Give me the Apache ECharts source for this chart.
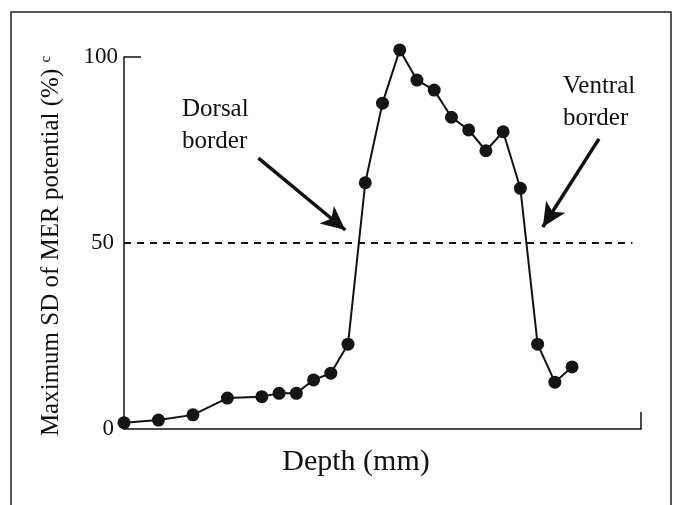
<!DOCTYPE html>
<html>
<head>
<meta charset="utf-8">
<script src="https://cdn.jsdelivr.net/npm/echarts@6/dist/echarts.min.js"></script>
<style>
    html, body { margin: 0; padding: 0; background: #fff; }
    #mer { width: 677px; height: 505px; }
</style>
</head>
<body>
<div id="mer"></div>
<script>
    // depth along the track (mm) and max SD of MER potential (%)
    const depth = [0, 1, 2, 3, 4, 4.5, 5, 5.5, 6, 6.5, 7, 7.5, 8, 8.5, 9, 9.5, 10, 10.5, 11, 11.5, 12, 12.5, 13]
    const sdPct = [1.7, 2.4, 3.8, 8.3, 8.7, 9.6, 9.6, 13.2, 15.0, 22.8, 66.2, 87.6, 101.9, 93.8, 91.1, 83.8, 80.4, 74.8, 79.9, 64.7, 22.8, 12.6, 16.7]
    const yTicks = [0, 50, 100]
    const threshold = 50

    const serif = 'Liberation Serif'
    const ink = '#111'

    const chart = echarts.init(document.getElementById('mer'))
    chart.setOption({
        backgroundColor: '#fff',
        animation: false,
        grid: {
            left: 124,
            right: 36,
            top: 57,
            bottom: 76,
            outerBoundsMode: 'none'
        },
        xAxis: {
            type: 'value',
            min: 0,
            max: 15,
            name: 'Depth (mm)',
            nameLocation: 'middle',
            nameGap: 18,
            nameTextStyle: {
                fontFamily: serif,
                fontSize: 30,
                color: ink,
                padding: [0, 53, 0, 0]
            },
            splitLine: { show: false },
            axisLabel: { show: false },
            axisLine: { lineStyle: { color: ink, width: 1.5 } },
            axisTick: {
                show: true,
                inside: true,
                length: 17,
                customValues: [15],
                lineStyle: { color: ink, width: 1.5 }
            }
        },
        yAxis: {
            type: 'value',
            min: 0,
            max: 100,
            interval: 50,
            name: '{n|Maximum SD of MER potential (%)} {c|c}',
            nameLocation: 'middle',
            nameGap: 60,
            nameTextStyle: {
                fontFamily: serif,
                fontSize: 25,
                color: ink,
                padding: [0, 6, 0, 0],
                rich: {
                    n: { fontFamily: serif, fontSize: 25, color: ink },
                    c: { fontFamily: serif, fontSize: 15, color: ink, verticalAlign: 'top' }
                }
            },
            splitLine: { show: false },
            axisLine: { show: true, lineStyle: { color: ink, width: 1.5 } },
            axisTick: {
                show: true,
                inside: true,
                length: 17,
                customValues: [100],
                lineStyle: { color: ink, width: 1.5 }
            },
            axisLabel: {
                customValues: yTicks,
                margin: 6,
                formatter: function (v) {
                    return v === 100 ? '{w|100}' : '{n|' + v + '}'
                },
                rich: {
                    w: { fontFamily: serif, fontSize: 23, color: ink },
                    n: { fontFamily: serif, fontSize: 23, color: ink, padding: [0, 4, 0, 0] }
                }
            }
        },
        series: [
            {
                type: 'line',
                data: depth.map((d, i) => [d, sdPct[i]]),
                clip: false,
                symbol: 'circle',
                symbolSize: 13,
                itemStyle: { color: '#151515' },
                lineStyle: { color: ink, width: 2 },
                markLine: {
                    silent: true,
                    label: { show: false },
                    data: [
                        [
                            { coord: [0, threshold], symbol: 'none', lineStyle: { type: [7, 6], width: 2, color: ink } },
                            { coord: [14.75, threshold], symbol: 'none' }
                        ],
                        // Dorsal border arrow
                        [
                            { coord: [3.9, 72.8], symbol: 'none', lineStyle: { type: 'solid', width: 3.5, color: ink } },
                            { coord: [6.42, 53.5], symbol: 'arrow', symbolSize: [17, 24] }
                        ],
                        // Ventral border arrow
                        [
                            { coord: [13.78, 78.0], symbol: 'none', lineStyle: { type: 'solid', width: 3.5, color: ink } },
                            { coord: [12.15, 54.3], symbol: 'arrow', symbolSize: [17, 24] }
                        ]
                    ]
                }
            }
        ],
        graphic: [
            {
                type: 'rect',
                shape: { x: 11, y: 12, width: 660, height: 600 },
                style: { fill: null, stroke: '#222', lineWidth: 1.5 },
                silent: true
            },
            {
                type: 'text',
                x: 182,
                y: 125,
                style: {
                    text: 'Dorsal\nborder',
                    fontFamily: serif,
                    fontSize: 25,
                    lineHeight: 32,
                    fill: ink,
                    verticalAlign: 'middle'
                }
            },
            {
                type: 'text',
                x: 563,
                y: 102,
                style: {
                    text: 'Ventral\nborder',
                    fontFamily: serif,
                    fontSize: 25,
                    lineHeight: 32,
                    fill: ink,
                    verticalAlign: 'middle'
                }
            }
        ]
    })
</script>
</body>
</html>
